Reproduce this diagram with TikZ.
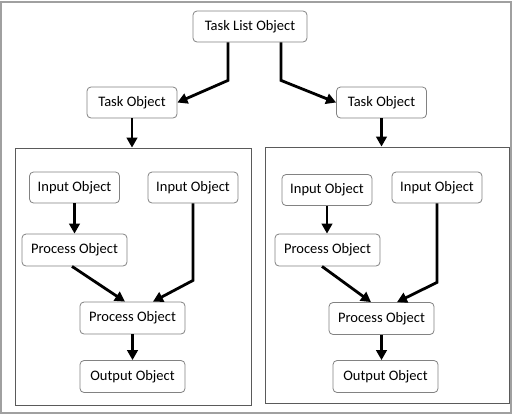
\documentclass[tikz,border=0pt]{standalone}
\usepackage{fontspec}
\setmainfont{Carlito}
\usetikzlibrary{arrows.meta}
\definecolor{boxgray}{RGB}{130,130,130}
\definecolor{panelgray}{RGB}{90,90,90}
\definecolor{framegray}{RGB}{160,160,160}
\begin{document}
\begin{tikzpicture}[x=1pt,y=-1pt,
  obj/.style={draw=boxgray,line width=0.8pt,rounded corners=4pt,fill=white,
    minimum width=90pt,minimum height=31pt,inner sep=0pt,
    font=\fontsize{14.5}{17}\selectfont},
  wideobj/.style={obj,minimum width=105pt,minimum height=32pt},
  panel/.style={draw=panelgray,line width=0.8pt,inner sep=0pt},
  arr/.style={line width=2.8pt,-{Triangle[length=10pt,width=10.5pt]}}]
\useasboundingbox (0,0) rectangle (514,416);
\draw[framegray,line width=1.5pt] (1,2) rectangle (511,413);
% panels
\node[panel,minimum width=236pt,minimum height=257pt] (panL) at (133,276.5) {};
\node[panel,minimum width=244pt,minimum height=256pt] (panR) at (387,275) {};
% top level
\node[obj,minimum width=114pt] (tl) at (250,26.5) {Task List Object};
\node[obj] (taskL) at (132,102.5) {Task Object};
\node[obj] (taskR) at (381.5,102.5) {Task Object};
% left panel
\node[obj] (inL1) at (74.5,187.5) {Input Object};
\node[obj] (inL2) at (193,187.5) {Input Object};
\node[wideobj] (pL1) at (74.5,250) {Process Object};
\node[wideobj] (pL2) at (132.5,318) {Process Object};
\node[wideobj] (outL) at (132.5,376.5) {Output Object};
% right panel
\node[obj] (inR1) at (327,190) {Input Object};
\node[obj] (inR2) at (437,187.5) {Input Object};
\node[wideobj] (pR1) at (327.5,250) {Process Object};
\node[wideobj] (pR2) at (381.5,318.5) {Process Object};
\node[wideobj] (outR) at (385.5,376.5) {Output Object};
% top arrows
\draw[arr] ([xshift=-22pt]tl.south) -- ++(0,38) -- (taskL.east);
\draw[arr] ([xshift=31pt]tl.south) -- ++(0,38) -- (taskR.west);
\draw[arr] (taskL.south) -- (taskL.south |- panL.north);
\draw[arr] (taskR.south) -- (taskR.south |- panR.north);
% left panel arrows
\draw[arr] (inL1.south) -- (inL1.south |- pL1.north);
\draw[arr] (inL2.south) -- ++(0,77) -- ([xshift=20.5pt]pL2.north);
\draw[arr] ([xshift=-2.5pt]pL1.south) -- ([xshift=-7.5pt]pL2.north);
\draw[arr] (pL2.south) -- (pL2.south |- outL.north);
% right panel arrows
\draw[arr] (inR1.south) -- (inR1.south |- pR1.north);
\draw[arr] (inR2.south) -- ++(0,79) -- ([xshift=15.5pt]pR2.north);
\draw[arr] ([xshift=-5.5pt]pR1.south) -- ([xshift=-10.5pt]pR2.north);
\draw[arr] (pR2.south) -- (pR2.south |- outR.north);
\end{tikzpicture}
\end{document}
